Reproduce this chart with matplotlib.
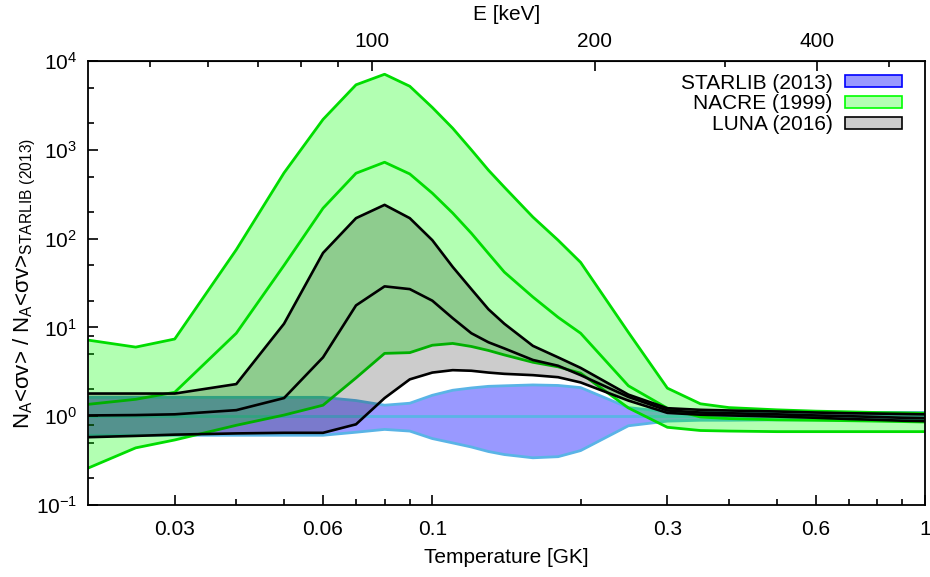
import matplotlib
matplotlib.use("Agg")
import matplotlib.pyplot as plt
from matplotlib.patches import Patch
from matplotlib.ticker import NullFormatter

plt.rcParams['font.family'] = ['Liberation Sans', 'DejaVu Sans']
plt.rcParams['mathtext.fontset'] = 'custom'
plt.rcParams['mathtext.rm'] = 'Liberation Sans'

# temperature grid [GK]
T = [0.02, 0.025, 0.03, 0.04, 0.05, 0.06, 0.07, 0.08, 0.09, 0.1, 0.11, 0.12, 0.13, 0.14,
     0.16, 0.18, 0.2, 0.25, 0.3, 0.35, 0.4, 0.5, 0.6, 0.7, 0.8, 0.9, 1.0]

# STARLIB (2013) band
starlib_hi = [1.63, 1.63, 1.63, 1.63, 1.63, 1.63, 1.5, 1.33, 1.4, 1.72, 1.96, 2.08, 2.17, 2.2,
              2.25, 2.22, 2.1, 1.25, 1.12, 1.1, 1.1, 1.1, 1.1, 1.1, 1.1, 1.1, 1.1]
starlib_lo = [0.61, 0.61, 0.61, 0.61, 0.61, 0.61, 0.66, 0.71, 0.68, 0.56, 0.5, 0.45, 0.4, 0.37,
              0.34, 0.35, 0.41, 0.78, 0.88, 0.9, 0.9, 0.91, 0.91, 0.91, 0.91, 0.91, 0.91]
starlib_mid = [1.0] * len(T)

# NACRE (1999)
nacre_hi = [7.2, 6.0, 7.4, 75, 550, 2200, 5400, 7100, 5200, 3000, 1750, 1000, 590, 380,
            175, 96, 54, 8.8, 2.07, 1.38, 1.25, 1.18, 1.14, 1.12, 1.1, 1.09, 1.08]
nacre_mid = [1.36, 1.55, 1.86, 8.6, 50, 220, 545, 725, 535, 325, 194, 115, 68, 42,
             22, 13, 8.6, 2.2, 1.23, 0.98, 0.94, 0.91, 0.9, 0.89, 0.88, 0.87, 0.86]
nacre_lo = [0.26, 0.44, 0.54, 0.79, 1.03, 1.33, 2.7, 5.1, 5.2, 6.3, 6.6, 6.1, 5.5, 4.9,
            4.05, 3.6, 3.05, 1.24, 0.75, 0.69, 0.68, 0.67, 0.67, 0.67, 0.67, 0.67, 0.67]

# LUNA (2016)
luna_hi = [1.8, 1.8, 1.8, 2.3, 11, 69, 170, 240, 170, 96, 48, 27, 16, 11,
           6.2, 4.6, 3.5, 1.75, 1.23, 1.18, 1.16, 1.13, 1.1, 1.08, 1.07, 1.06, 1.05]
luna_mid = [1.02, 1.03, 1.05, 1.17, 1.6, 4.6, 17.7, 29, 27, 20, 12.7, 8.6, 6.8, 5.8,
            4.3, 3.7, 2.9, 1.65, 1.16, 1.1, 1.08, 1.05, 1.02, 1.0, 0.98, 0.96, 0.95]
luna_lo = [0.58, 0.6, 0.62, 0.64, 0.65, 0.65, 0.81, 1.6, 2.6, 3.1, 3.3, 3.25, 3.1, 3.0,
           2.9, 2.75, 2.4, 1.5, 1.09, 1.04, 1.02, 0.99, 0.96, 0.93, 0.91, 0.89, 0.88]

x_major = [0.03, 0.06, 0.1, 0.3, 0.6, 1]
x_major_lbl = ['0.03', '0.06', '0.1', '0.3', '0.6', '1']
x_minor = [0.04, 0.05, 0.07, 0.08, 0.09, 0.2, 0.4, 0.5, 0.7, 0.8, 0.9]
e_major = [100, 200, 400]
e_minor = [50, 60, 70, 80, 90, 300, 500]

T100 = 0.0755  # temperature where Gamow energy = 100 keV


def t2e(t):
    return 100.0 * (t / T100) ** (2.0 / 3.0)


def e2t(e):
    return T100 * (e / 100.0) ** 1.5


fs = 15

fig = plt.figure(figsize=(9.3, 5.77), dpi=100)
ax = fig.add_axes([0.0946, 0.1248, 0.9, 0.7694])

blue_line = '#5ab4e6'
green_line = '#00dd00'

ax.fill_between(T, starlib_lo, starlib_hi, color=(0, 0, 1), alpha=0.4, lw=0, zorder=1)
for y in (starlib_hi, starlib_lo, starlib_mid):
    ax.plot(T, y, color=blue_line, lw=2, zorder=1.5)

ax.fill_between(T, nacre_lo, nacre_hi, color=(0, 1, 0), alpha=0.3, lw=0, zorder=2)
for y in (nacre_hi, nacre_mid, nacre_lo):
    ax.plot(T, y, color=green_line, lw=2, zorder=2.5)

ax.fill_between(T, luna_lo, luna_hi, color='black', alpha=0.2, lw=0, zorder=3)
for y in (luna_hi, luna_mid, luna_lo):
    ax.plot(T, y, color='black', lw=1.9, zorder=3.5)

ax.set_xscale('log')
ax.set_yscale('log')
ax.set_xlim(0.02, 1)
ax.set_ylim(0.1, 1e4)

ax.set_xticks(x_major, labels=x_major_lbl)
ax.set_xticks(x_minor, minor=True)
ax.xaxis.set_minor_formatter(NullFormatter())
ax.set_yticks([0.1, 1, 10, 100, 1000, 10000])
ymin = []
for d in [0.1, 1, 10, 100, 1000]:
    ymin += [2 * d, 5 * d]
ymin += [0.8, 8]
ax.set_yticks(ymin, minor=True)
ax.yaxis.set_minor_formatter(NullFormatter())

ax.tick_params(which='both', direction='in', labelsize=fs, top=False, right=False, width=1.2)
ax.tick_params(which='major', length=7)
ax.tick_params(which='minor', length=4)
ax.tick_params(axis='x', pad=11)
ax.tick_params(axis='y', pad=8)
for s in ax.spines.values():
    s.set_linewidth(1.3)

ax.set_xlabel('Temperature [GK]', fontsize=fs, labelpad=6)
ax.set_ylabel(r'N$_\mathregular{A}$<σv> / N$_\mathregular{A}$<σv>$_\mathregular{STARLIB\ (2013)}$',
              fontsize=fs + 1, labelpad=-2)

sec = ax.secondary_xaxis('top', functions=(t2e, e2t))
sec.set_xticks(e_major, labels=[str(e) for e in e_major])
sec.set_xticks(e_minor, minor=True)
sec.xaxis.set_minor_formatter(NullFormatter())
sec.tick_params(which='both', direction='in', labelsize=fs, width=1.2)
sec.tick_params(which='major', length=7, pad=7)
sec.tick_params(which='minor', length=4)
sec.set_xlabel('E [keV]', fontsize=fs, labelpad=9)

handles = [
    Patch(facecolor=(153/255, 153/255, 1), edgecolor='#0000ff', lw=1.2, label='STARLIB (2013)'),
    Patch(facecolor=(179/255, 1, 179/255), edgecolor='#00ff00', lw=1.2, label='NACRE (1999)'),
    Patch(facecolor=(0.8, 0.8, 0.8), edgecolor='black', lw=1.2, label='LUNA (2016)'),
]
leg = ax.legend(handles=handles, loc='upper right', bbox_to_anchor=(0.988, 1.0),
                frameon=False, markerfirst=False,
                fontsize=fs, handlelength=2.75, handleheight=0.55, labelspacing=0.09,
                handletextpad=0.6, borderaxespad=0.2, alignment='right')
for t in leg.get_texts():
    t.set_ha('right')

fig.savefig('out.png', dpi=100)
